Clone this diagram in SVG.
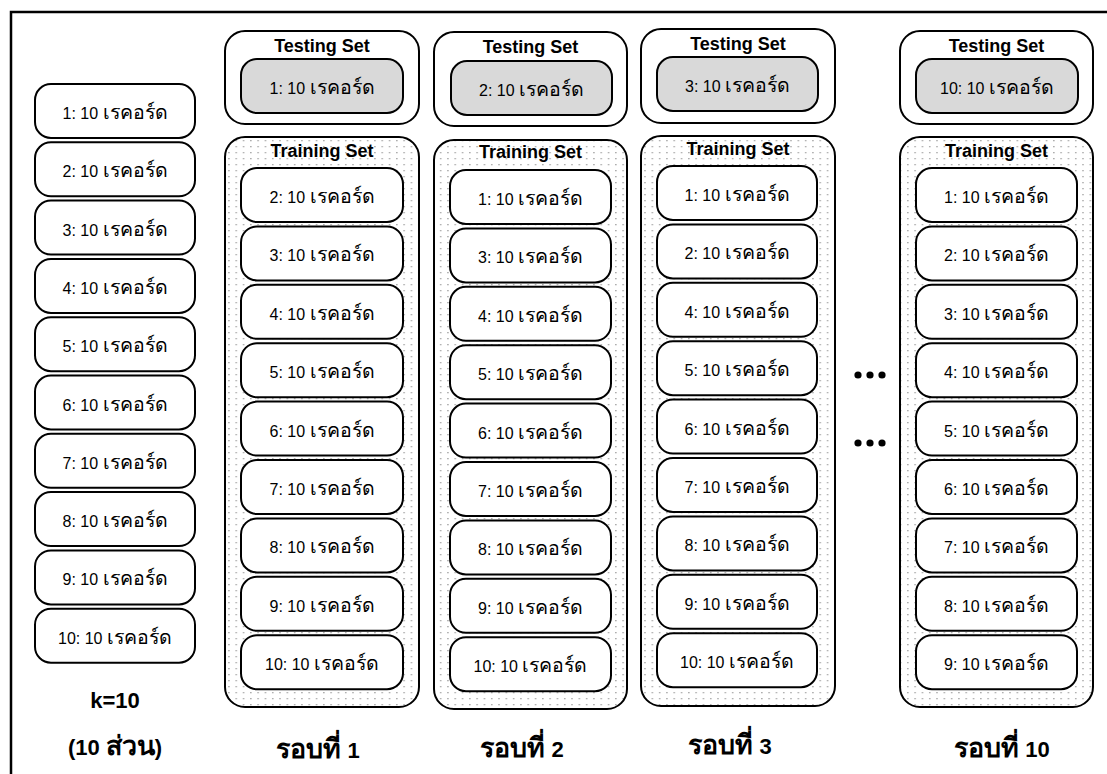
<svg xmlns="http://www.w3.org/2000/svg" width="1107" height="774" viewBox="0 0 1107 774">
  <defs>
    <pattern id="dots" width="7.3" height="6" patternUnits="userSpaceOnUse">
      <rect x="2" y="2" width="1.3" height="1.3" fill="#9a9a9a"/>
    </pattern>
    <style>
      .frame { fill: #fff; stroke: #000; stroke-width: 2.5; }
      .box { fill: #fff; stroke: #000; stroke-width: 2; }
      .test { fill: #d9d9d9; stroke: #000; stroke-width: 2; }
      .group { fill: #fff; stroke: #000; stroke-width: 2; }
      .train { fill: url(#dots); stroke: #000; stroke-width: 2; }
      .lbl { font-family: "Liberation Sans", "DejaVu Sans", "Noto Sans", sans-serif; font-size: 16px; fill: #000; text-anchor: middle; }
      .title { font-family: "Liberation Sans", "DejaVu Sans", sans-serif; font-size: 18px; font-weight: bold; fill: #000; text-anchor: middle; }
      .cap { font-family: "Liberation Sans", "DejaVu Sans", "Noto Sans", sans-serif; font-size: 22px; font-weight: bold; fill: #000; text-anchor: middle; }
      .th { font-size: 1.22em; }
    </style>
  </defs>

  <!-- outer frame -->
  <rect class="frame" x="11" y="12" width="1110" height="790"/>

  <!-- full data set split into 10 folds -->
  <g id="folds">
    <g id="fold-1"><rect class="box" x="35" y="84" width="160" height="54" rx="16"/><text class="lbl" x="115" y="119">1: 10 <tspan class="th">เรคอร์ด</tspan></text></g>
    <g id="fold-2"><rect class="box" x="35" y="142.3" width="160" height="54" rx="16"/><text class="lbl" x="115" y="177.3">2: 10 <tspan class="th">เรคอร์ด</tspan></text></g>
    <g id="fold-3"><rect class="box" x="35" y="200.6" width="160" height="54" rx="16"/><text class="lbl" x="115" y="235.6">3: 10 <tspan class="th">เรคอร์ด</tspan></text></g>
    <g id="fold-4"><rect class="box" x="35" y="258.9" width="160" height="54" rx="16"/><text class="lbl" x="115" y="293.9">4: 10 <tspan class="th">เรคอร์ด</tspan></text></g>
    <g id="fold-5"><rect class="box" x="35" y="317.2" width="160" height="54" rx="16"/><text class="lbl" x="115" y="352.2">5: 10 <tspan class="th">เรคอร์ด</tspan></text></g>
    <g id="fold-6"><rect class="box" x="35" y="375.5" width="160" height="54" rx="16"/><text class="lbl" x="115" y="410.5">6: 10 <tspan class="th">เรคอร์ด</tspan></text></g>
    <g id="fold-7"><rect class="box" x="35" y="433.8" width="160" height="54" rx="16"/><text class="lbl" x="115" y="468.8">7: 10 <tspan class="th">เรคอร์ด</tspan></text></g>
    <g id="fold-8"><rect class="box" x="35" y="492.1" width="160" height="54" rx="16"/><text class="lbl" x="115" y="527.1">8: 10 <tspan class="th">เรคอร์ด</tspan></text></g>
    <g id="fold-9"><rect class="box" x="35" y="550.4" width="160" height="54" rx="16"/><text class="lbl" x="115" y="585.4">9: 10 <tspan class="th">เรคอร์ด</tspan></text></g>
    <g id="fold-10"><rect class="box" x="35" y="608.7" width="160" height="54" rx="16"/><text class="lbl" x="115" y="643.7">10: 10 <tspan class="th">เรคอร์ด</tspan></text></g>
    <text class="cap" x="115" y="708">k=10</text>
    <text class="cap" x="115" y="755">(10 <tspan class="th">ส่วน</tspan>)</text>
  </g>

  <!-- round 1 -->
  <g id="round-1">
    <g id="r1-test">
      <rect class="group" x="225" y="31" width="194" height="93" rx="20"/>
      <text class="title" x="322" y="52">Testing Set</text>
      <rect class="test" x="241" y="59" width="162" height="54" rx="16"/>
      <text class="lbl" x="322" y="94">1: 10 <tspan class="th">เรคอร์ด</tspan></text>
    </g>
    <g id="r1-train">
      <rect class="train" x="225" y="137" width="194" height="570" rx="20"/>
      <text class="title" x="322" y="157">Training Set</text>
      <rect class="box" x="241" y="168" width="162" height="54" rx="16"/><text class="lbl" x="322" y="203">2: 10 <tspan class="th">เรคอร์ด</tspan></text>
      <rect class="box" x="241" y="226.4" width="162" height="54" rx="16"/><text class="lbl" x="322" y="261.4">3: 10 <tspan class="th">เรคอร์ด</tspan></text>
      <rect class="box" x="241" y="284.8" width="162" height="54" rx="16"/><text class="lbl" x="322" y="319.8">4: 10 <tspan class="th">เรคอร์ด</tspan></text>
      <rect class="box" x="241" y="343.2" width="162" height="54" rx="16"/><text class="lbl" x="322" y="378.2">5: 10 <tspan class="th">เรคอร์ด</tspan></text>
      <rect class="box" x="241" y="401.6" width="162" height="54" rx="16"/><text class="lbl" x="322" y="436.6">6: 10 <tspan class="th">เรคอร์ด</tspan></text>
      <rect class="box" x="241" y="460" width="162" height="54" rx="16"/><text class="lbl" x="322" y="495">7: 10 <tspan class="th">เรคอร์ด</tspan></text>
      <rect class="box" x="241" y="518.4" width="162" height="54" rx="16"/><text class="lbl" x="322" y="553.4">8: 10 <tspan class="th">เรคอร์ด</tspan></text>
      <rect class="box" x="241" y="576.8" width="162" height="54" rx="16"/><text class="lbl" x="322" y="611.8">9: 10 <tspan class="th">เรคอร์ด</tspan></text>
      <rect class="box" x="241" y="635.2" width="162" height="54" rx="16"/><text class="lbl" x="322" y="670.2">10: 10 <tspan class="th">เรคอร์ด</tspan></text>
    </g>
    <text class="cap" x="318" y="758"><tspan class="th">รอบที่</tspan> 1</text>
  </g>

  <!-- round 2 -->
  <g id="round-2">
    <g id="r2-test">
      <rect class="group" x="434" y="32" width="193" height="94" rx="20"/>
      <text class="title" x="530.5" y="53">Testing Set</text>
      <rect class="test" x="451" y="61" width="161" height="54" rx="16"/>
      <text class="lbl" x="531.5" y="96">2: 10 <tspan class="th">เรคอร์ด</tspan></text>
    </g>
    <g id="r2-train">
      <rect class="train" x="434" y="140" width="193" height="569" rx="20"/>
      <text class="title" x="530.5" y="158">Training Set</text>
      <rect class="box" x="450" y="170" width="161" height="54" rx="16"/><text class="lbl" x="530.5" y="205">1: 10 <tspan class="th">เรคอร์ด</tspan></text>
      <rect class="box" x="450" y="228.4" width="161" height="54" rx="16"/><text class="lbl" x="530.5" y="263.4">3: 10 <tspan class="th">เรคอร์ด</tspan></text>
      <rect class="box" x="450" y="286.8" width="161" height="54" rx="16"/><text class="lbl" x="530.5" y="321.8">4: 10 <tspan class="th">เรคอร์ด</tspan></text>
      <rect class="box" x="450" y="345.2" width="161" height="54" rx="16"/><text class="lbl" x="530.5" y="380.2">5: 10 <tspan class="th">เรคอร์ด</tspan></text>
      <rect class="box" x="450" y="403.6" width="161" height="54" rx="16"/><text class="lbl" x="530.5" y="438.6">6: 10 <tspan class="th">เรคอร์ด</tspan></text>
      <rect class="box" x="450" y="462" width="161" height="54" rx="16"/><text class="lbl" x="530.5" y="497">7: 10 <tspan class="th">เรคอร์ด</tspan></text>
      <rect class="box" x="450" y="520.4" width="161" height="54" rx="16"/><text class="lbl" x="530.5" y="555.4">8: 10 <tspan class="th">เรคอร์ด</tspan></text>
      <rect class="box" x="450" y="578.8" width="161" height="54" rx="16"/><text class="lbl" x="530.5" y="613.8">9: 10 <tspan class="th">เรคอร์ด</tspan></text>
      <rect class="box" x="450" y="637.2" width="161" height="54" rx="16"/><text class="lbl" x="530.5" y="672.2">10: 10 <tspan class="th">เรคอร์ด</tspan></text>
    </g>
    <text class="cap" x="522" y="757"><tspan class="th">รอบที่</tspan> 2</text>
  </g>

  <!-- round 3 -->
  <g id="round-3">
    <g id="r3-test">
      <rect class="group" x="641" y="29" width="194" height="94" rx="20"/>
      <text class="title" x="738" y="50">Testing Set</text>
      <rect class="test" x="657" y="57" width="161" height="54" rx="16"/>
      <text class="lbl" x="737.5" y="92">3: 10 <tspan class="th">เรคอร์ด</tspan></text>
    </g>
    <g id="r3-train">
      <rect class="train" x="641" y="136" width="194" height="570" rx="20"/>
      <text class="title" x="738" y="155">Training Set</text>
      <rect class="box" x="657" y="166" width="160" height="54" rx="16"/><text class="lbl" x="737" y="201">1: 10 <tspan class="th">เรคอร์ด</tspan></text>
      <rect class="box" x="657" y="224.4" width="160" height="54" rx="16"/><text class="lbl" x="737" y="259.4">2: 10 <tspan class="th">เรคอร์ด</tspan></text>
      <rect class="box" x="657" y="282.8" width="160" height="54" rx="16"/><text class="lbl" x="737" y="317.8">4: 10 <tspan class="th">เรคอร์ด</tspan></text>
      <rect class="box" x="657" y="341.2" width="160" height="54" rx="16"/><text class="lbl" x="737" y="376.2">5: 10 <tspan class="th">เรคอร์ด</tspan></text>
      <rect class="box" x="657" y="399.6" width="160" height="54" rx="16"/><text class="lbl" x="737" y="434.6">6: 10 <tspan class="th">เรคอร์ด</tspan></text>
      <rect class="box" x="657" y="458" width="160" height="54" rx="16"/><text class="lbl" x="737" y="493">7: 10 <tspan class="th">เรคอร์ด</tspan></text>
      <rect class="box" x="657" y="516.4" width="160" height="54" rx="16"/><text class="lbl" x="737" y="551.4">8: 10 <tspan class="th">เรคอร์ด</tspan></text>
      <rect class="box" x="657" y="574.8" width="160" height="54" rx="16"/><text class="lbl" x="737" y="609.8">9: 10 <tspan class="th">เรคอร์ด</tspan></text>
      <rect class="box" x="657" y="633.2" width="160" height="54" rx="16"/><text class="lbl" x="737" y="668.2">10: 10 <tspan class="th">เรคอร์ด</tspan></text>
    </g>
    <text class="cap" x="730" y="754"><tspan class="th">รอบที่</tspan> 3</text>
  </g>

  <!-- rounds in between, elided -->
  <g id="ellipsis" fill="#000">
    <circle cx="858" cy="375" r="3.6"/><circle cx="870" cy="375" r="3.6"/><circle cx="882" cy="375" r="3.6"/>
    <circle cx="858" cy="443" r="3.6"/><circle cx="870" cy="443" r="3.6"/><circle cx="882" cy="443" r="3.6"/>
  </g>

  <!-- round 10 -->
  <g id="round-10">
    <g id="r10-test">
      <rect class="group" x="900" y="31" width="193" height="93" rx="20"/>
      <text class="title" x="996.5" y="52">Testing Set</text>
      <rect class="test" x="916" y="59" width="162" height="54" rx="16"/>
      <text class="lbl" x="997" y="94">10: 10 <tspan class="th">เรคอร์ด</tspan></text>
    </g>
    <g id="r10-train">
      <rect class="train" x="900" y="137" width="193" height="570" rx="20"/>
      <text class="title" x="996.5" y="157">Training Set</text>
      <rect class="box" x="916" y="168" width="161" height="54" rx="16"/><text class="lbl" x="996.5" y="203">1: 10 <tspan class="th">เรคอร์ด</tspan></text>
      <rect class="box" x="916" y="226.4" width="161" height="54" rx="16"/><text class="lbl" x="996.5" y="261.4">2: 10 <tspan class="th">เรคอร์ด</tspan></text>
      <rect class="box" x="916" y="284.8" width="161" height="54" rx="16"/><text class="lbl" x="996.5" y="319.8">3: 10 <tspan class="th">เรคอร์ด</tspan></text>
      <rect class="box" x="916" y="343.2" width="161" height="54" rx="16"/><text class="lbl" x="996.5" y="378.2">4: 10 <tspan class="th">เรคอร์ด</tspan></text>
      <rect class="box" x="916" y="401.6" width="161" height="54" rx="16"/><text class="lbl" x="996.5" y="436.6">5: 10 <tspan class="th">เรคอร์ด</tspan></text>
      <rect class="box" x="916" y="460" width="161" height="54" rx="16"/><text class="lbl" x="996.5" y="495">6: 10 <tspan class="th">เรคอร์ด</tspan></text>
      <rect class="box" x="916" y="518.4" width="161" height="54" rx="16"/><text class="lbl" x="996.5" y="553.4">7: 10 <tspan class="th">เรคอร์ด</tspan></text>
      <rect class="box" x="916" y="576.8" width="161" height="54" rx="16"/><text class="lbl" x="996.5" y="611.8">8: 10 <tspan class="th">เรคอร์ด</tspan></text>
      <rect class="box" x="916" y="635.2" width="161" height="54" rx="16"/><text class="lbl" x="996.5" y="670.2">9: 10 <tspan class="th">เรคอร์ด</tspan></text>
    </g>
    <text class="cap" x="1002" y="757"><tspan class="th">รอบที่</tspan> 10</text>
  </g>

  <!-- no connectors between nodes -->
  <g id="connectors"/>
</svg>
